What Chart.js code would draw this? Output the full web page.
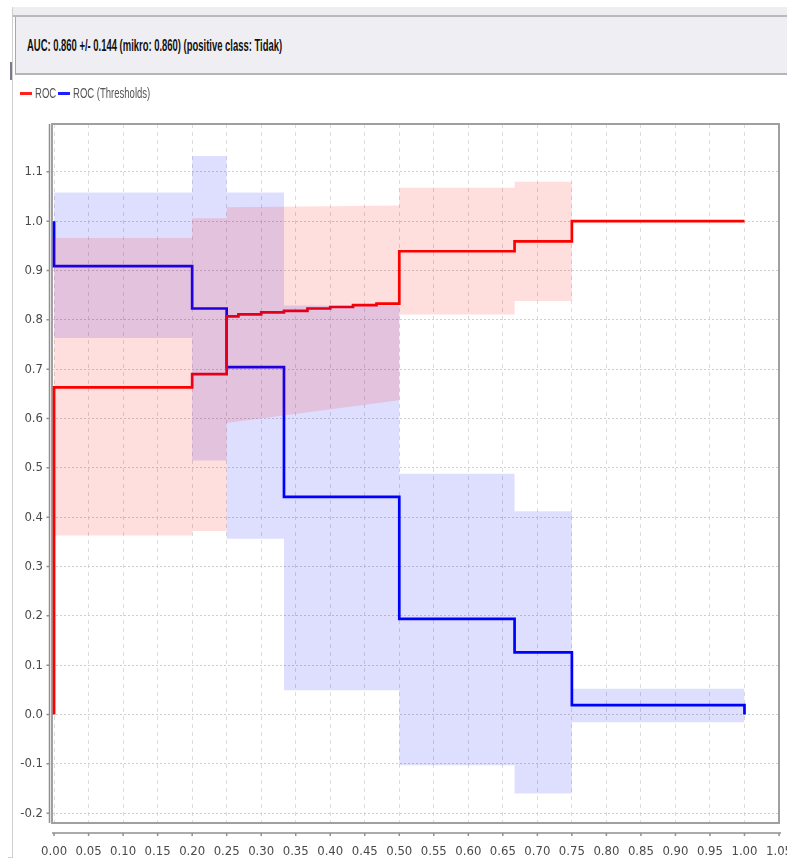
<!DOCTYPE html>
<html>
<head>
<meta charset="utf-8">
<script src="https://cdn.jsdelivr.net/npm/chart.js@4.4.1/dist/chart.umd.min.js"></script>
<style>
  body { margin: 0; background: #fff; }
  #wrap { position: relative; width: 787px; height: 861px; overflow: hidden; }
  #chart { position: absolute; left: 0; top: 0; }
  .frame-left { position: absolute; left: 12px; top: 7px; width: 1px; height: 851px; background: #cfcfcf; }
  .frame-bottom { position: absolute; left: 8px; top: 857px; width: 5px; height: 1px; background: #cfcfcf; }
  .strip { position: absolute; left: 13px; top: 7px; right: 0; height: 8px; background: #ededf2; border-bottom: 2px solid #b9b9bd; }
  .header { position: absolute; left: 15px; top: 17px; right: 0; height: 56px; background: #efeff3;
            border-left: 1px solid #a9a9ad; border-bottom: 2px solid #b4b4b8; }
  .header span { position: absolute; left: 11px; top: 20px; font: bold 16px 'Liberation Sans', Arial, sans-serif;
                 color: #111; white-space: nowrap; transform: scaleX(0.59); transform-origin: 0 50%; }
  .mark { position: absolute; left: 10px; top: 62px; width: 2px; height: 18px; background: #7a7a90; }
  .legend { position: absolute; left: 20px; top: 85px; height: 16px; }
  .legend .sw { position: absolute; top: 7px; width: 12px; height: 3px; }
  .legend .tx { position: absolute; top: 0; font: 14px 'Liberation Sans', Arial, sans-serif; color: #555;
                white-space: nowrap; transform: scaleX(0.68); transform-origin: 0 50%; }
</style>
</head>
<body>
<div id="wrap">
  <canvas id="chart" width="787" height="861"></canvas>
  <div class="frame-left"></div>
  <div class="frame-bottom"></div>
  <div class="strip"></div>
  <div class="header"><span>AUC: 0.860 +/- 0.144 (mikro: 0.860) (positive class: Tidak)</span></div>
  <div class="mark"></div>
  <div class="legend">
    <div class="sw" style="left:0;background:#ff2020"></div>
    <div class="tx" style="left:15px">ROC</div>
    <div class="sw" style="left:38px;background:#2020ff"></div>
    <div class="tx" style="left:53px">ROC (Thresholds)</div>
  </div>
</div>
<script>
// ROC curve (red), step points
const rocX = [0, 0, 0.2, 0.2, 0.25, 0.25, 0.267, 0.267, 0.3, 0.3, 0.333, 0.333, 0.367, 0.367, 0.4, 0.4, 0.433, 0.433, 0.467, 0.467, 0.5, 0.5, 0.667, 0.667, 0.75, 0.75, 1.0];
const rocY = [0, 0.663, 0.663, 0.69, 0.69, 0.807, 0.807, 0.811, 0.811, 0.815, 0.815, 0.818, 0.818, 0.823, 0.823, 0.826, 0.826, 0.83, 0.83, 0.833, 0.833, 0.939, 0.939, 0.959, 0.959, 1.0, 1.0];

// ROC deviation band
const rocBandX = [0, 0.2, 0.2, 0.25, 0.25, 0.5, 0.5, 0.667, 0.667, 0.75];
const rocUpper = [0.966, 0.966, 1.006, 1.006, 1.028, 1.032, 1.068, 1.068, 1.08, 1.08];
const rocLower = [0.363, 0.363, 0.372, 0.372, 0.591, 0.637, 0.811, 0.811, 0.838, 0.838];

// ROC (Thresholds) curve (blue)
const thrX = [0, 0, 0.2, 0.2, 0.25, 0.25, 0.333, 0.333, 0.5, 0.5, 0.667, 0.667, 0.75, 0.75, 1.0, 1.0];
const thrY = [1.0, 0.909, 0.909, 0.823, 0.823, 0.704, 0.704, 0.441, 0.441, 0.194, 0.194, 0.126, 0.126, 0.019, 0.019, 0.0];

// Thresholds deviation band
const thrBandX = [0, 0.2, 0.2, 0.25, 0.25, 0.333, 0.333, 0.5, 0.5, 0.667, 0.667, 0.75, 0.75, 1.0];
const thrUpper = [1.058, 1.058, 1.132, 1.132, 1.058, 1.058, 0.829, 0.829, 0.488, 0.488, 0.412, 0.412, 0.052, 0.052];
const thrLower = [0.763, 0.763, 0.515, 0.515, 0.356, 0.356, 0.049, 0.049, -0.103, -0.103, -0.16, -0.16, -0.016, -0.016];

// axis ticks
const xTicks = [0, 0.05, 0.1, 0.15, 0.2, 0.25, 0.3, 0.35, 0.4, 0.45, 0.5, 0.55, 0.6, 0.65, 0.7, 0.75, 0.8, 0.85, 0.9, 0.95, 1.0, 1.05];
const yTicks = [-0.2, -0.1, 0, 0.1, 0.2, 0.3, 0.4, 0.5, 0.6, 0.7, 0.8, 0.9, 1.0, 1.1];

const pts = (xs, ys) => xs.map((x, i) => ({ x: x, y: ys[i] }));

const tickFont = { family: "'Liberation Sans Narrow', 'DejaVu Sans Condensed', 'Liberation Sans', sans-serif", size: 13 };

// plot box and offset axis lines, drawn under the data like the original renderer
const framePlugin = {
    id: 'frame',
    beforeDatasetsDraw(chart) {
        const { ctx, chartArea: a, scales } = chart;
        ctx.save();
        ctx.strokeStyle = '#a0a0a0';
        ctx.lineWidth = 2;
        ctx.strokeRect(a.left, a.top, a.right - a.left, a.bottom - a.top);

        ctx.strokeStyle = '#909090';
        ctx.lineWidth = 1.5;
        ctx.beginPath();
        // y axis line
        ctx.moveTo(a.left - 2.5, a.top);
        ctx.lineTo(a.left - 2.5, a.bottom);
        scales.y.ticks.forEach(t => {
            const py = scales.y.getPixelForValue(t.value);
            ctx.moveTo(a.left - 2.5, py);
            ctx.lineTo(a.left - 5.5, py);
        });
        // x axis line
        const ay = a.bottom + 10;
        ctx.moveTo(a.left, ay);
        ctx.lineTo(a.right + 2, ay);
        scales.x.ticks.forEach(t => {
            const px = scales.x.getPixelForValue(t.value);
            ctx.moveTo(px, ay);
            ctx.lineTo(px, ay + 3);
        });
        ctx.stroke();
        ctx.restore();
    }
};

new Chart(document.getElementById('chart'), {
    type: 'line',
    data: {
        datasets: [
            { label: 'rocUpper', data: pts(rocBandX, rocUpper), borderWidth: 0, pointRadius: 0, fill: false },
            { label: 'rocLower', data: pts(rocBandX, rocLower), borderWidth: 0, pointRadius: 0,
              fill: '-1', backgroundColor: 'rgba(255, 0, 0, 0.13)' },
            { label: 'thrUpper', data: pts(thrBandX, thrUpper), borderWidth: 0, pointRadius: 0, fill: false },
            { label: 'thrLower', data: pts(thrBandX, thrLower), borderWidth: 0, pointRadius: 0,
              fill: '-1', backgroundColor: 'rgba(0, 0, 255, 0.13)' },
            { label: 'ROC', data: pts(rocX, rocY), borderColor: 'rgb(255, 0, 0)', borderWidth: 2.7,
              pointRadius: 0, fill: false, tension: 0, clip: false },
            { label: 'ROC (Thresholds)', data: pts(thrX, thrY), borderColor: 'rgb(0, 0, 255)', borderWidth: 2.7,
              pointRadius: 0, fill: false, tension: 0, clip: false }
        ]
    },
    options: {
        responsive: false,
        animation: false,
        layout: { padding: { top: 124, right: 8, left: 0, bottom: 0 }, autoPadding: false },
        plugins: { legend: { display: false }, tooltip: { enabled: false } },
        scales: {
            x: {
                type: 'linear',
                min: -0.003,
                max: 1.05,
                afterBuildTicks: s => { s.ticks = xTicks.map(v => ({ value: v })); },
                afterFit: s => { s.height = 38; s.paddingLeft = 0; s.paddingRight = 0; },
                grid: { color: '#dcdcdc', lineWidth: 1, drawTicks: false },
                border: { display: false, dash: [4, 4] },
                ticks: { padding: 21, maxRotation: 0, autoSkip: false, color: '#4a4a4a', font: tickFont,
                         callback: v => v.toFixed(2) }
            },
            y: {
                type: 'linear',
                min: -0.22,
                max: 1.197,
                afterBuildTicks: s => { s.ticks = yTicks.map(v => ({ value: v })); },
                afterFit: s => { s.width = 52; s.paddingTop = 0; s.paddingBottom = 0; },
                grid: { color: '#cfcfcf', lineWidth: 1, drawTicks: false },
                border: { display: false, dash: [2, 2] },
                ticks: { padding: 9, color: '#4a4a4a', font: tickFont, callback: v => v.toFixed(1) }
            }
        }
    },
    plugins: [framePlugin]
});
</script>
</body>
</html>
